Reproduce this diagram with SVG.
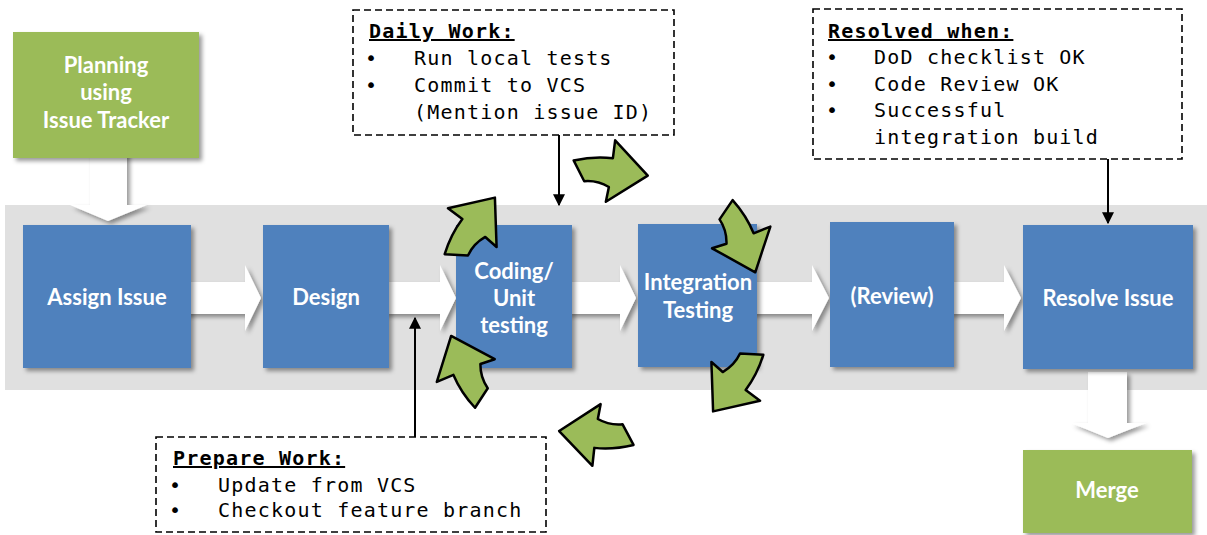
<svg xmlns="http://www.w3.org/2000/svg" xmlns:xlink="http://www.w3.org/1999/xlink" width="1207" height="535" viewBox="0 0 1207 535">
<style>
.box{fill:#4F81BD;filter:url(#sh)}
.gbox{fill:#9BBB59;filter:url(#sh)}
.lbl{font-family:Lato,"Open Sans","Liberation Sans",sans-serif;font-weight:bold;font-size:22px;fill:#fff;text-anchor:middle}
.note{fill:#fff;stroke:#000;stroke-width:1.6;stroke-dasharray:7 4}
.mono{font-family:"DejaVu Sans Mono","Liberation Mono",monospace;font-size:20px;letter-spacing:1.2px;fill:#000}
.hdr{font-weight:bold;text-decoration:underline;letter-spacing:1.2px}
.bul{text-anchor:middle;letter-spacing:0}
.warrow{fill:#fff;filter:url(#sh)}
.cyc{fill:#9BBB59;stroke:#000;stroke-width:2.5;stroke-linejoin:round}
.line{stroke:#000;stroke-width:2;fill:none;marker-end:url(#ah)}
</style>
<defs>
<filter id="sh" x="-20%" y="-20%" width="150%" height="150%">
<feDropShadow dx="3" dy="3" stdDeviation="2" flood-color="#000" flood-opacity="0.4"/>
</filter>
<marker id="ah" viewBox="0 0 10 10" refX="9" refY="5" markerWidth="6" markerHeight="6" orient="auto" markerUnits="strokeWidth">
<path d="M0,0 L10,5 L0,10 Z" fill="#000"/>
</marker>
<path id="cyc" d="M -37,-8 Q -17,-14 2,-13 L 3,-31 L 38,2 L -2,31 L 0,16 Q -12,10 -25,12 Z"/>
</defs>
<rect width="1207" height="535" fill="#fff"/>
<rect id="band" x="5" y="205" width="1202" height="185" fill="#E0E0E0"/>

<g id="connectors">
<path class="warrow" d="M 90,150 V 205 H 70 L 108,221 L 147,205 H 127 V 150 Z"/>
<path class="warrow" d="M 1088,372 V 423 H 1071 L 1108,438 L 1146,423 H 1127 V 372 Z"/>
<path class="warrow" d="M 185,282 H 245 V 265 L 261,298 L 245,331 V 314 H 185 Z"/>
<path class="warrow" d="M 385,282 H 440 V 265 L 456,298 L 440,331 V 314 H 385 Z"/>
<path class="warrow" d="M 568,282 H 620 V 265 L 636,298 L 620,331 V 314 H 568 Z"/>
<path class="warrow" d="M 752,282 H 812 V 265 L 829,298 L 812,331 V 314 H 752 Z"/>
<path class="warrow" d="M 950,282 H 1004 V 265 L 1021,298 L 1004,331 V 314 H 950 Z"/>
</g>

<g id="planning"><rect class="gbox" x="13" y="32" width="186" height="126"/>
<text class="lbl" x="106" y="73">Planning</text><text class="lbl" x="106" y="100">using</text><text class="lbl" x="106" y="128">Issue Tracker</text></g>
<g id="assign"><rect class="box" x="23" y="225" width="168" height="143"/><text class="lbl" x="107" y="305">Assign Issue</text></g>
<g id="design"><rect class="box" x="263" y="225" width="126" height="143"/><text class="lbl" x="326" y="305">Design</text></g>
<g id="coding"><rect class="box" x="456" y="225" width="116" height="143"/>
<text class="lbl" x="514" y="279">Coding/</text><text class="lbl" x="514" y="306">Unit</text><text class="lbl" x="514" y="333">testing</text></g>
<g id="integration"><rect class="box" x="638" y="224" width="119" height="143"/>
<text class="lbl" x="698" y="290">Integration</text><text class="lbl" x="698" y="318">Testing</text></g>
<g id="review"><rect class="box" x="830" y="222" width="124" height="145"/><text class="lbl" x="892" y="304">(Review)</text></g>
<g id="resolve"><rect class="box" x="1023" y="225" width="170" height="144"/><text class="lbl" x="1108" y="306">Resolve Issue</text></g>
<g id="merge"><rect class="gbox" x="1023" y="450" width="169" height="83"/><text class="lbl" x="1107" y="498">Merge</text></g>

<g id="cycle">
<use href="#cyc" class="cyc" transform="translate(610,171) rotate(4)"/>
<use href="#cyc" class="cyc" transform="translate(741,237) rotate(65)"/>
<use href="#cyc" class="cyc" transform="translate(736,381) rotate(124)"/>
<use href="#cyc" class="cyc" transform="translate(597,435) rotate(183)"/>
<use href="#cyc" class="cyc" transform="translate(466,371) rotate(244)"/>
<use href="#cyc" class="cyc" transform="translate(472,228) rotate(304)"/>
</g>

<g id="daily-work"><rect class="note" x="353" y="10" width="321" height="125"/>
<text class="mono hdr" x="369" y="38">Daily Work:</text>
<text class="mono bul" x="371" y="65">•</text><text class="mono" x="414" y="65">Run local tests</text>
<text class="mono bul" x="371" y="92">•</text><text class="mono" x="414" y="92">Commit to VCS</text>
<text class="mono" x="414" y="119">(Mention issue ID)</text></g>

<g id="resolved-when"><rect class="note" x="813" y="9" width="369" height="150"/>
<text class="mono hdr" x="828" y="38">Resolved when:</text>
<text class="mono bul" x="832" y="64">•</text><text class="mono" x="874" y="64">DoD checklist OK</text>
<text class="mono bul" x="832" y="91">•</text><text class="mono" x="874" y="91">Code Review OK</text>
<text class="mono bul" x="832" y="117">•</text><text class="mono" x="874" y="117">Successful</text>
<text class="mono" x="874" y="144">integration build</text></g>

<g id="prepare-work"><rect class="note" x="156" y="437" width="390" height="95"/>
<text class="mono hdr" x="173" y="465">Prepare Work:</text>
<text class="mono bul" x="175" y="492">•</text><text class="mono" x="218" y="492">Update from VCS</text>
<text class="mono bul" x="175" y="517">•</text><text class="mono" x="218" y="517">Checkout feature branch</text></g>

<g id="note-links">
<line class="line" x1="559" y1="135" x2="559" y2="205"/>
<line class="line" x1="1108" y1="159" x2="1108" y2="223"/>
<line class="line" x1="415" y1="437" x2="415" y2="318"/>
</g>
</svg>
